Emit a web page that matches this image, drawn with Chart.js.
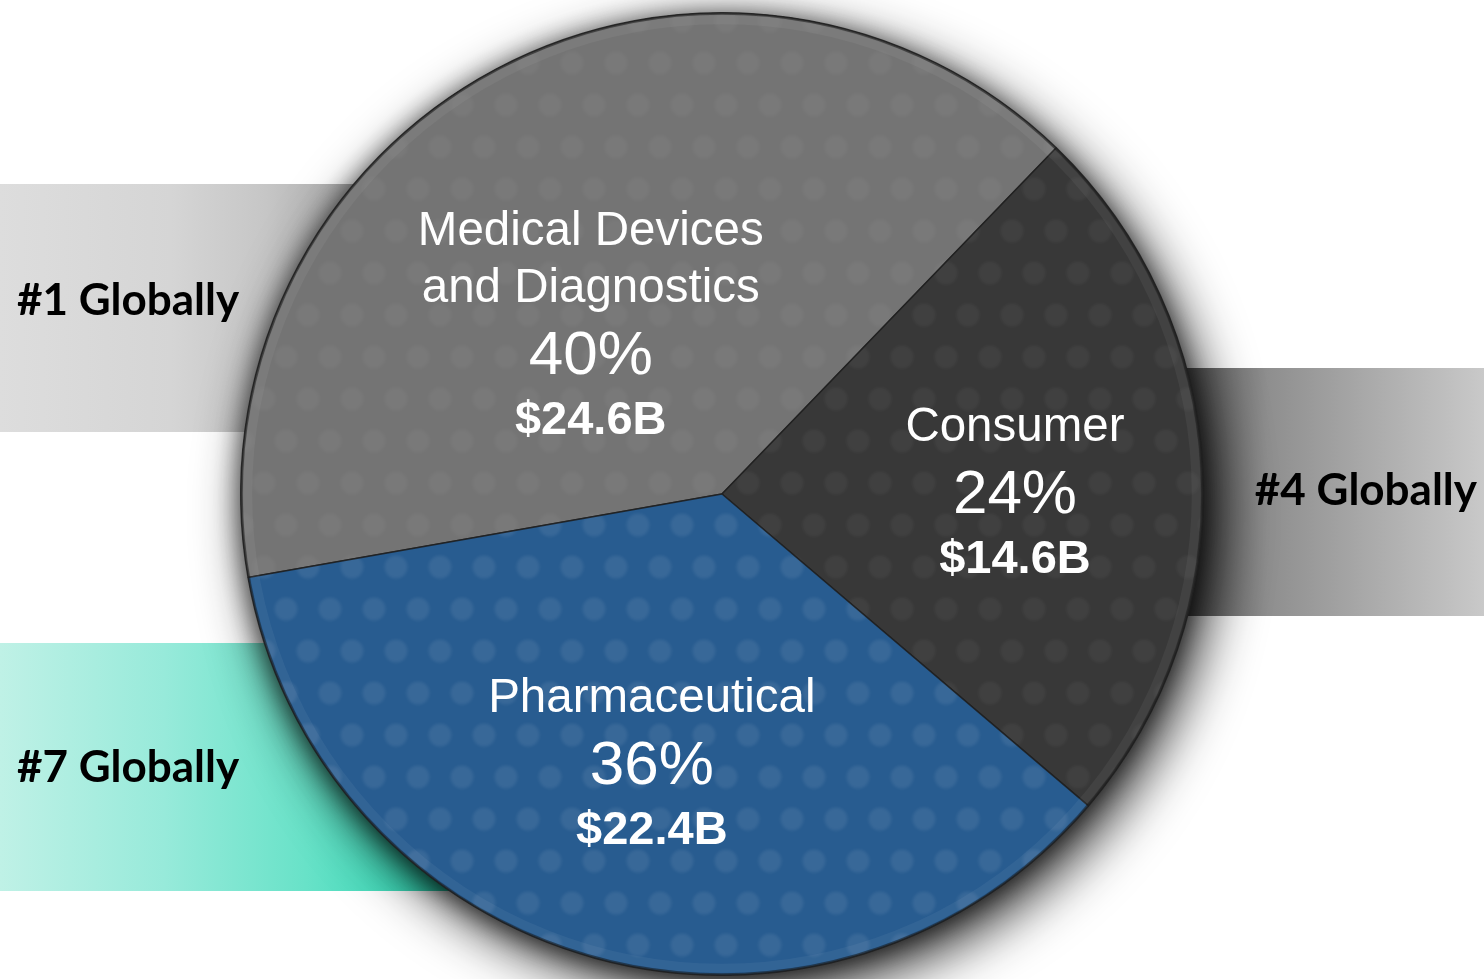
<!DOCTYPE html>
<html>
<head>
<meta charset="utf-8">
<title>Segment sales</title>
<script src="https://cdn.jsdelivr.net/npm/chart.js@4.4.1/dist/chart.umd.min.js"></script>
<style>
  html, body { margin: 0; padding: 0; background: #ffffff; }
  #wrap { position: relative; width: 1484px; height: 979px; overflow: hidden; }
</style>
</head>
<body>
<div id="wrap"><canvas id="pie"></canvas></div>
<script>
"use strict";

// data
const segments = ["Medical Devices and Diagnostics", "Consumer", "Pharmaceutical"];
const segmentLines = [["Medical Devices", "and Diagnostics"], ["Consumer"], ["Pharmaceutical"]];
const shares = [40, 24, 36];
const revenue = ["$24.6B", "$14.6B", "$22.4B"];
const rankLabels = ["#1 Globally", "#4 Globally", "#7 Globally"];

const sliceColors = {
  base: ["#747474", "#383838", "#285c90"],
  dots: ["rgba(255,255,255,0.04)", "rgba(255,255,255,0.045)", "rgba(255,255,255,0.075)"],
};

/** label anchor = baseline of the % line; angle nudge (deg) and radius fraction per slice */
const labelPlacement = [
  { nudge: -19.5, frac: 0.37 },
  { nudge: 6.5, frac: 0.61 },
  { nudge: -1.6, frac: 0.62 },
];

/** rank bands behind the pie, one per rankLabels entry */
const rankBands = [
  { x0: 0, x1: 380, y0: 184, y1: 432, textX: 17, align: "left", baseline: 315,
    stops: [[0, "#dddddd"], [0.45, "#d5d5d5"], [0.7, "#c6c6c6"], [1, "#a4a4a4"]] },
  { x0: 1150, x1: 1484, y0: 368, y1: 616, textX: 1477, align: "right", baseline: 505,
    stops: [[0, "#3c3c3c"], [0.12, "#5c5c5c"], [0.35, "#8e8e8e"], [1, "#c9c9c9"]] },
  { x0: 0, x1: 470, y0: 643, y1: 891, textX: 17, align: "left", baseline: 782,
    stops: [[0, "#bff1e6"], [0.35, "#97eada"], [0.65, "#68e2c8"], [0.85, "#3fd9b8"], [1, "#22c9a6"]] },
];

const textFont = "'Liberation Sans', Arial, sans-serif";
const rankFont = "bold 44px Lato, 'Open Sans', sans-serif";

function dotPattern(base, dot) {
  const tile = document.createElement("canvas");
  tile.width = 44;
  tile.height = 84;
  const t = tile.getContext("2d");
  t.fillStyle = base;
  t.fillRect(0, 0, 44, 84);
  t.filter = "blur(1.5px)";
  t.fillStyle = dot;
  [[22, 21], [0, 63], [44, 63]].forEach(([cx, cy]) => {
    t.beginPath();
    t.arc(cx, cy, 11.5, 0, Math.PI * 2);
    t.fill();
  });
  return t.createPattern(tile, "repeat");
}

const bandPlugin = {
  id: "rankBands",
  beforeDraw(chart) {
    const ctx = chart.ctx;
    ctx.save();
    rankBands.forEach((b) => {
      const g = ctx.createLinearGradient(b.x0, 0, b.x1, 0);
      b.stops.forEach(([o, c]) => g.addColorStop(o, c));
      ctx.fillStyle = g;
      ctx.fillRect(b.x0, b.y0, b.x1 - b.x0, b.y1 - b.y0);
    });
    ctx.restore();
  },
  afterDraw(chart) {
    const ctx = chart.ctx;
    ctx.save();
    ctx.font = rankFont;
    ctx.fillStyle = "#000000";
    ctx.textBaseline = "alphabetic";
    rankBands.forEach((b, i) => {
      ctx.textAlign = b.align;
      ctx.fillText(rankLabels[i], b.textX, b.baseline);
    });
    ctx.restore();
  },
};

const pieShadowPlugin = {
  id: "pieShadow",
  beforeDatasetsDraw(chart) {
    const arc = chart.getDatasetMeta(0).data[0];
    if (!arc) return;
    const { x, y, outerRadius } = arc.getProps(["x", "y", "outerRadius"], true);
    const ctx = chart.ctx;
    ctx.save();
    ctx.shadowColor = "rgba(0,0,0,0.9)";
    ctx.shadowBlur = 55;
    ctx.shadowOffsetX = 12;
    ctx.shadowOffsetY = 18;
    ctx.fillStyle = "#404040";
    ctx.beginPath();
    ctx.arc(x, y, outerRadius, 0, Math.PI * 2);
    ctx.fill();
    // second, tighter shadow all round
    ctx.shadowColor = "rgba(0,0,0,0.55)";
    ctx.shadowBlur = 25;
    ctx.shadowOffsetX = -2;
    ctx.shadowOffsetY = 2;
    ctx.fill();
    ctx.restore();
  },
  afterDatasetsDraw(chart) {
    const arc = chart.getDatasetMeta(0).data[0];
    if (!arc) return;
    const { x, y, outerRadius } = arc.getProps(["x", "y", "outerRadius"], true);
    const ctx = chart.ctx;
    ctx.save();
    ctx.strokeStyle = "rgba(255,255,255,0.05)";
    ctx.lineWidth = 9;
    ctx.beginPath();
    ctx.arc(x, y, outerRadius - 7, 0, Math.PI * 2);
    ctx.stroke();
    ctx.strokeStyle = "rgba(30,30,30,0.6)";
    ctx.lineWidth = 2;
    ctx.beginPath();
    ctx.arc(x, y, outerRadius - 1, 0, Math.PI * 2);
    ctx.stroke();
    ctx.restore();
  },
};

const sliceLabelPlugin = {
  id: "sliceLabels",
  afterDatasetsDraw(chart) {
    const ctx = chart.ctx;
    const arcs = chart.getDatasetMeta(0).data;
    ctx.save();
    ctx.fillStyle = "#ffffff";
    ctx.textAlign = "center";
    ctx.textBaseline = "alphabetic";
    arcs.forEach((arc, i) => {
      const p = arc.getProps(["x", "y", "startAngle", "endAngle", "outerRadius"], true);
      const place = labelPlacement[i];
      const a = (p.startAngle + p.endAngle) / 2 + (place.nudge * Math.PI) / 180;
      const ax = p.x + Math.cos(a) * p.outerRadius * place.frac;
      const ay = p.y + Math.sin(a) * p.outerRadius * place.frac;
      const lines = segmentLines[i];
      ctx.font = "47.5px " + textFont;
      lines.forEach((ln, k) => {
        ctx.fillText(ln, ax, ay - 72 - (lines.length - 1 - k) * 57);
      });
      ctx.font = "62px " + textFont;
      ctx.fillText(shares[i] + "%", ax, ay);
      ctx.font = "bold 47px " + textFont;
      ctx.fillText(revenue[i], ax, ay + 60);
    });
    ctx.restore();
  },
};

new Chart(document.getElementById("pie"), {
  type: "pie",
  data: {
    labels: segments,
    datasets: [
      {
        data: shares,
        backgroundColor: sliceColors.base.map((c, i) => dotPattern(c, sliceColors.dots[i])),
        borderColor: "rgba(30,30,30,0.85)",
        borderWidth: 1.5,
        hoverOffset: 0,
      },
    ],
  },
  options: {
    responsive: true,
    maintainAspectRatio: false,
    animation: false,
    rotation: -100,
    layout: { padding: { left: 0, right: 40, top: 12, bottom: 3 } },
    plugins: {
      legend: { display: false },
      tooltip: { enabled: false },
    },
  },
  plugins: [bandPlugin, pieShadowPlugin, sliceLabelPlugin],
});
</script>
</body>
</html>
